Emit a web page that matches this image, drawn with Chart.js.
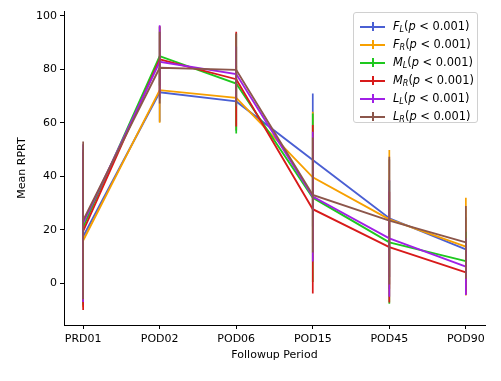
<!DOCTYPE html>
<html>
<head>
<meta charset="utf-8">
<script src="https://cdn.jsdelivr.net/npm/chart.js@4/dist/chart.umd.min.js"></script>
<style>
  html, body { margin: 0; padding: 0; background: #fff; }
  #wrap { position: relative; width: 501px; height: 381px; }
  #c { position: absolute; left: 0; top: 0; }
  #legend { position: absolute; left: 353px; top: 12px; width: 125px; height: 111px;
    border: 1px solid #d0d0d0; border-radius: 3px; background: rgba(255,255,255,0.85);
    font-family: 'DejaVu Sans', sans-serif; font-size: 11.4px; color: #000; box-sizing: border-box; }
  .row { position: absolute; left: 0; height: 18px; width: 100%; }
  .hl { position: absolute; left: 6px; top: 8px; width: 25px; height: 1.7px; }
  .vl { position: absolute; left: 18px; top: 4px; width: 1.7px; height: 9px; }
  .tx { position: absolute; left: 39px; top: 1px; white-space: nowrap; line-height: 14px; }
  .tx i { font-style: italic; }
  .tx sub { font-size: 8px; font-style: italic; vertical-align: -2px; line-height: 0; }
</style>
</head>
<body>
<div id="wrap">
  <canvas id="c" width="501" height="381"></canvas>
  <div id="legend"></div>
</div>
<script>
// ---- data ----
const categories = ['PRD01', 'POD02', 'POD06', 'POD15', 'POD45', 'POD90'];
const seriesNames = ['F_L', 'F_R', 'M_L', 'M_R', 'L_L', 'L_R'];
const seriesLabels = ['F_L(p<0.001)', 'F_R(p<0.001)', 'M_L(p<0.001)', 'M_R(p<0.001)', 'L_L(p<0.001)', 'L_R(p<0.001)'];
const meanFL = [17.5, 71.4, 68.0, 46.1, 24.3, 12.7];
const meanFR = [16.0, 72.2, 69.3, 39.6, 23.9, 13.7];
const meanML = [21.0, 84.9, 74.7, 32.0, 15.3, 8.3];
const meanMR = [19.5, 83.7, 76.3, 27.7, 13.5, 4.1];
const meanLL = [22.5, 82.8, 78.2, 32.4, 16.8, 6.2];
const meanLR = [23.5, 80.6, 79.8, 33.0, 23.4, 15.3];
const sdFL = [26.0, 11.0, 11.0, 24.9, 22.0, 12.0];
const sdFR = [25.0, 12.2, 12.0, 24.5, 25.9, 18.3];
const sdML = [29.0, 11.0, 18.7, 31.5, 23.0, 11.0];
const sdMR = [29.5, 12.5, 17.7, 31.5, 20.7, 8.3];
const sdLL = [29.5, 13.7, 10.3, 24.3, 21.8, 10.6];
const sdLR = [29.5, 13.4, 13.6, 21.5, 23.9, 13.6];
const yTicks = [0, 20, 40, 60, 80, 100];
const colors = ['#4a5fd3', '#f7a000', '#1ec81e', '#d81a1a', '#a020e6', '#8c564b'];

const means = [meanFL, meanFR, meanML, meanMR, meanLL, meanLR];
const sds = [sdFL, sdFR, sdML, sdMR, sdLL, sdLR];

// ---- datasets ----
const datasets = [];
means.forEach((m, s) => {
  const err = [];
  m.forEach((v, i) => {
    err.push({ x: i, y: v - sds[s][i] });
    err.push({ x: i, y: v + sds[s][i] });
    err.push({ x: i, y: null });
  });
  datasets.push({
    label: seriesLabels[s] + ' err', data: err, borderColor: colors[s], borderWidth: 1.7,
    pointRadius: 0, spanGaps: false, order: 2 * (5 - s) + 1, tension: 0
  });
  datasets.push({
    label: seriesLabels[s], data: m.map((v, i) => ({ x: i, y: v })), borderColor: colors[s],
    borderWidth: 1.9, pointRadius: 0, order: 2 * (5 - s), tension: 0
  });
});

const font = { family: 'DejaVu Sans', size: 11 };

new Chart(document.getElementById('c'), {
  type: 'line',
  data: { datasets },
  options: {
    responsive: false, animation: false, devicePixelRatio: 1,
    layout: { padding: { left: 0, right: 16, top: 11, bottom: 0 } },
    plugins: { legend: { display: false }, tooltip: { enabled: false } },
    scales: {
      x: {
        type: 'linear', min: -0.25, max: 5.25,
        afterBuildTicks: (sc) => { sc.ticks = categories.map((_, i) => ({ value: i })); },
        afterFit: (sc) => { sc.height = 56; },
        ticks: { font, color: '#000', padding: 4, maxRotation: 0, autoSkip: false,
          callback: (v) => categories[v] },
        grid: { drawOnChartArea: false, tickLength: 4, color: '#000', tickWidth: 1 },
        border: { color: '#000', width: 1 },
        title: { display: true, text: 'Followup Period', font, color: '#000', padding: { top: 0, bottom: 19 } }
      },
      y: {
        type: 'linear', min: -15.6, max: 101.8,
        afterBuildTicks: (sc) => { sc.ticks = yTicks.map((v) => ({ value: v })); },
        afterFit: (sc) => { sc.width = 64; },
        ticks: { font, color: '#000', padding: 3 },
        grid: { drawOnChartArea: false, tickLength: 4, color: '#000', tickWidth: 1 },
        border: { color: '#000', width: 1 },
        title: { display: true, text: 'Mean RPRT', font, color: '#000', padding: { top: 16, bottom: 0 } }
      }
    }
  }
});

// ---- legend (HTML, with math-style subscripts) ----
const lg = document.getElementById('legend');
seriesNames.forEach((n, s) => {
  const [base, sub] = n.split('_');
  const row = document.createElement('div');
  row.className = 'row';
  row.style.top = (5 + s * 18) + 'px';
  row.innerHTML = '<div class="hl" style="background:' + colors[s] + '"></div>' +
    '<div class="vl" style="background:' + colors[s] + '"></div>' +
    '<div class="tx"><i>' + base + '</i><sub>' + sub + '</sub>(<i>p</i> &lt; 0.001)</div>';
  lg.appendChild(row);
});
</script>
</body>
</html>
